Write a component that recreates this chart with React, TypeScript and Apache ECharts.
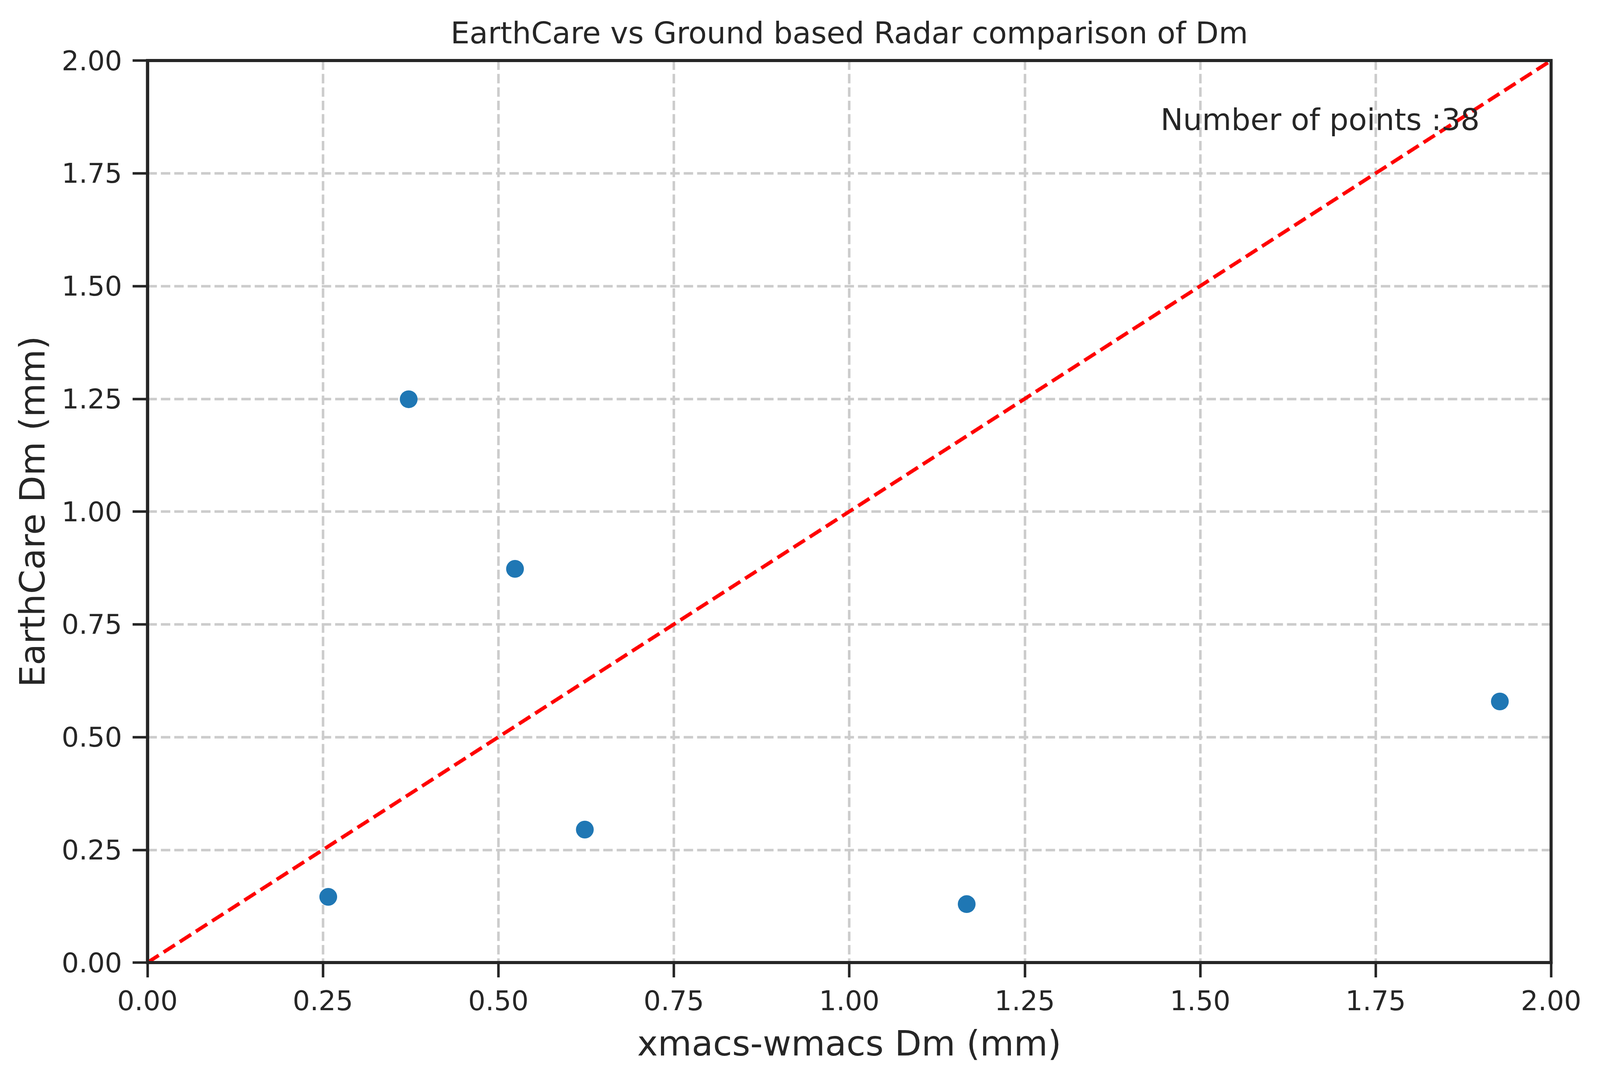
import React, { useEffect, useRef } from "react";
import * as echarts from "echarts";

// ---- data ----
const xmacsDm: number[] = [0.2576, 0.3722, 0.5237, 0.6232, 1.1673, 1.927];
const earthcareDm: number[] = [0.1457, 1.249, 0.8729, 0.2948, 0.1296, 0.5789];
const oneToOneLine: number[][] = [
  [0, 0],
  [2, 2],
];
const axisTicks: number[] = [0, 0.25, 0.5, 0.75, 1.0, 1.25, 1.5, 1.75, 2.0];
const titleText = "EarthCare vs Ground based Radar comparison of Dm";
const xLabelText = "xmacs-wmacs Dm (mm)";
const yLabelText = "EarthCare Dm (mm)";
const numberOfPoints = 38;

// reference frame (design pixels)
const REF_W = 4416;
const REF_H = 2776;
const FONT = "DejaVu Sans";
const INK = "#262626";

export default function App() {
  const ref = useRef<HTMLDivElement>(null);

  useEffect(() => {
    const el = ref.current;
    if (!el) return;
    const W = el.clientWidth || window.innerWidth;
    const H = el.clientHeight || window.innerHeight;
    const kx = W / REF_W;
    const ky = H / REF_H;
    const k = Math.min(kx, ky);
    const chart = echarts.init(el, undefined, { renderer: "svg", width: W, height: H });

    const gl = 407 * kx;
    const gt = 155 * ky;
    const gr = 4281 * kx;
    const gb = 2465 * ky;
    const cx = (gl + gr) / 2;

    const axisCommon = (isX: boolean) => ({
      type: "value" as const,
      min: axisTicks[0],
      max: axisTicks[axisTicks.length - 1],
      interval: axisTicks[1] - axisTicks[0],
      axisLine: { show: true, onZero: false, lineStyle: { color: INK, width: 8.5 * k } },
      axisTick: { show: true, inside: false, length: 41 * k, lineStyle: { color: INK, width: 7 * k } },
      axisLabel: {
        show: true,
        color: INK,
        fontFamily: FONT,
        fontSize: 75 * k,
        margin: isX ? 62 * ky : 70 * kx,
        formatter: (v: number) => v.toFixed(2),
      },
      splitLine: {
        show: true,
        lineStyle: { color: "#cccccc", width: 7 * k, type: [26 * k, 11 * k] },
      },
    });

    const textStyle = (size: number) => ({
      fontFamily: FONT,
      fontSize: size * k,
      fill: INK,
    });

    const option: echarts.EChartsOption = {
      animation: false,
      backgroundColor: "#ffffff",
      grid: {
        left: gl,
        top: gt,
        right: W - gr,
        bottom: H - gb,
        show: false,
        containLabel: false,
      },
      xAxis: axisCommon(true),
      yAxis: axisCommon(false),
      series: [
        {
          type: "scatter",
          data: xmacsDm.map((x, i) => [x, earthcareDm[i]]),
          symbol: "circle",
          symbolSize: 49 * k,
          itemStyle: { color: "#1f77b4", opacity: 1 },
          z: 3,
        },
        {
          type: "line",
          data: oneToOneLine,
          symbol: "none",
          lineStyle: { color: "#ff0000", width: 10 * k, type: [37 * k, 16 * k] },
          z: 4,
          clip: true,
        },
      ],
      graphic: [
        {
          type: "rect",
          z: 100,
          silent: true,
          shape: { x: gl, y: gt, width: gr - gl, height: gb - gt },
          style: { fill: "none", stroke: INK, lineWidth: 8.5 * k },
        },
        {
          type: "text",
          x: cx,
          y: 84 * ky,
          style: { ...textStyle(83), text: titleText, textAlign: "center", textVerticalAlign: "middle" },
        },
        {
          type: "text",
          x: 4084 * kx,
          y: 306 * ky,
          z: 10,
          style: {
            ...textStyle(83),
            text: "Number of points :" + numberOfPoints,
            textAlign: "right",
            textVerticalAlign: "middle",
          },
        },
        {
          type: "text",
          x: cx,
          y: 2672 * ky,
          style: { ...textStyle(96), text: xLabelText, textAlign: "center", textVerticalAlign: "middle" },
        },
        {
          type: "text",
          x: 90 * kx,
          y: (gt + gb) / 2,
          rotation: Math.PI / 2,
          style: { ...textStyle(96), text: yLabelText, textAlign: "center", textVerticalAlign: "middle" },
        },
      ],
    };

    chart.setOption(option);
    return () => chart.dispose();
  }, []);

  return (
    <div
      ref={ref}
      style={{
        position: "fixed",
        left: 0,
        top: 0,
        width: "100vw",
        height: "100vh",
        background: "#ffffff",
        overflow: "hidden",
      }}
    />
  );
}
